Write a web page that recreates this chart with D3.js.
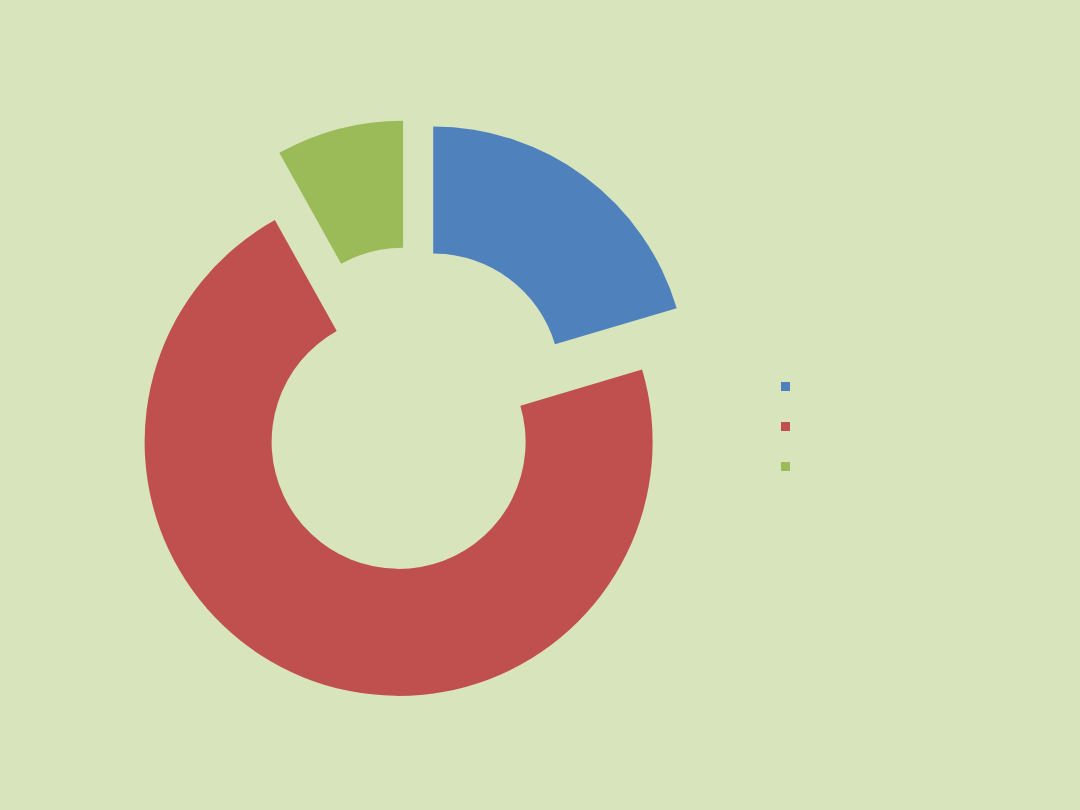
<!DOCTYPE html>
<html><head><meta charset="utf-8">
<script src="https://cdn.jsdelivr.net/npm/d3@7"></script>
<style>html,body{margin:0;padding:0;background:#D8E4BC;}svg{display:block;}</style>
</head><body>
<script>
const categories = ["Series A", "Series B", "Series C"];
const values = [20.4, 71.5, 8.1];
const colors = ["#4F81BD", "#C0504D", "#9BBB59"];

const W = 1080, H = 810;
const cx = 412, cy = 409, outerR = 254, innerR = 127, explode = 35.5;

const svg = d3.select("body").append("svg").attr("width", W).attr("height", H);
svg.append("rect").attr("width", W).attr("height", H).attr("fill", "#D8E4BC");

const pie = d3.pie().sort(null).value(d => d)(values);
const arc = d3.arc().innerRadius(innerR).outerRadius(outerR);

const g = svg.append("g").attr("transform", `translate(${cx},${cy})`);
g.selectAll("path").data(pie).join("path")
  .attr("d", arc)
  .attr("fill", (d, i) => colors[i])
  .attr("transform", d => {
    const m = (d.startAngle + d.endAngle) / 2;
    return `translate(${Math.sin(m) * explode},${-Math.cos(m) * explode})`;
  });

const legendY = d3.scalePoint().domain(categories).range([386.5, 466.5]);
svg.append("g").selectAll("rect").data(categories).join("rect")
  .attr("x", 781).attr("y", d => legendY(d) - 4.5)
  .attr("width", 9).attr("height", 9)
  .attr("fill", (d, i) => colors[i]);
</script>
</body></html>
